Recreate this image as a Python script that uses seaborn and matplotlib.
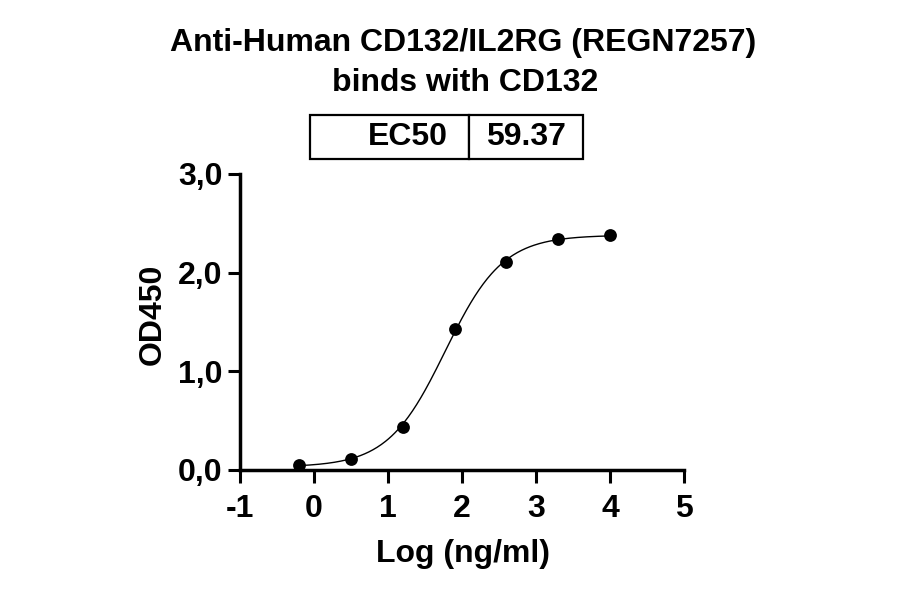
import numpy as np
import pandas as pd
import matplotlib
matplotlib.use("Agg")
import matplotlib.pyplot as plt
import seaborn as sns

# measured points (log10 of ng/ml, 5-fold dilution) and OD450 readings
log_conc = [-0.2, 0.5, 1.2, 1.9, 2.6, 3.3, 4.0]
od450 = [0.05, 0.11, 0.44, 1.43, 2.11, 2.34, 2.38]

# 4PL fit parameters as shown on the chart
ec50 = 59.37
fit_bottom = 0.03
fit_top = 2.38
fit_hill = 1.12

x_ticks = [-1, 0, 1, 2, 3, 4, 5]
y_ticks = [0, 1, 2, 3]
y_ticklabels = ["0,0", "1,0", "2,0", "3,0"]

sns.set_theme(style="ticks")
plt.rcParams["font.family"] = ["Liberation Sans", "DejaVu Sans"]
plt.rcParams["font.weight"] = "bold"
plt.rcParams["text.color"] = "black"
plt.rcParams["axes.labelcolor"] = "black"

FS = 23

fig = plt.figure(figsize=(9, 5.94), dpi=100)
ax = fig.add_axes([240 / 900, 124 / 594, 444 / 900, 296 / 594])

df = pd.DataFrame({"x": log_conc, "y": od450})

# fitted curve from the 4PL parameters
xs = np.linspace(min(log_conc), max(log_conc), 300)
ys = fit_bottom + (fit_top - fit_bottom) / (1 + 10 ** (fit_hill * (np.log10(ec50) - xs)))
sns.lineplot(x=xs, y=ys, ax=ax, color="black", linewidth=1.0)
sns.scatterplot(data=df, x="x", y="y", ax=ax, color="black", s=85,
                edgecolor="black", linewidth=0, clip_on=False, zorder=5)

ax.set_xlim(-1, 5)
ax.set_ylim(0, 3)
ax.set_xticks(x_ticks)
ax.set_xticklabels([str(t) for t in x_ticks])
ax.set_yticks(y_ticks)
ax.set_yticklabels(y_ticklabels)
sns.despine(ax=ax)
for side in ["left", "bottom"]:
    ax.spines[side].set_linewidth(2.5)
    ax.spines[side].set_color("black")
ax.tick_params(axis="both", length=9, width=2.2, colors="black",
               labelsize=FS)
ax.tick_params(axis="x", pad=8.5)
ax.tick_params(axis="y", pad=3.6)
for lab in ax.get_xticklabels() + ax.get_yticklabels():
    lab.set_fontweight("bold")

ax.set_xlabel("Log (ng/ml)", fontsize=FS, fontweight="bold")
ax.set_ylabel("OD450", fontsize=FS, fontweight="bold")
ax.xaxis.set_label_coords(0.502, -0.233)
ax.yaxis.set_label_coords(-0.162, 0.527)

fig.text(463 / 900, 1 - 51 / 594, "Anti-Human CD132/IL2RG (REGN7257)",
         ha="center", va="baseline", fontsize=FS, fontweight="bold")
fig.text(465 / 900, 1 - 91 / 594, "binds with CD132",
         ha="center", va="baseline", fontsize=FS, fontweight="bold")

# EC50 box above the plot
tbl = ax.table(cellText=[["EC50", f"{ec50:.2f}"]],
               colWidths=[0.582, 0.418],
               cellLoc="center",
               bbox=[0.1577, 1.0507, 0.615, 0.1486])
tbl.auto_set_font_size(False)
for (r, c), cell in tbl.get_celld().items():
    cell.set_linewidth(1.6)
    cell.set_edgecolor("black")
    cell.get_text().set_fontsize(FS)
    cell.get_text().set_fontweight("bold")
    if c == 0:
        cell.set_text_props(ha="right")
        cell.PAD = 0.13

fig.savefig("out.png", dpi=100)
